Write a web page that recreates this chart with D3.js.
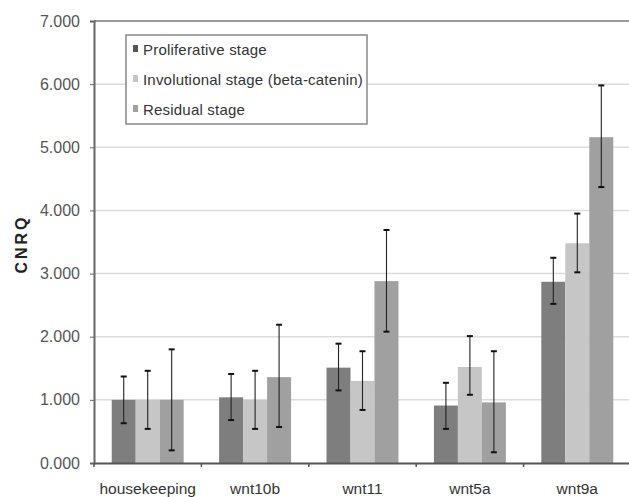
<!DOCTYPE html>
<html>
<head>
<meta charset="utf-8">
<script src="https://cdn.jsdelivr.net/npm/d3@7"></script>
<style>
  body { margin: 0; background: #fff; }
  text { font-family: "Liberation Sans", Arial, sans-serif; }
</style>
</head>
<body>
<div id="chart"></div>
<script>
const categories = ["housekeeping", "wnt10b", "wnt11", "wnt5a", "wnt9a"];
const seriesNames = ["Proliferative stage", "Involutional stage (beta-catenin)", "Residual stage"];
const seriesColors = ["#7e7e7e", "#c6c6c6", "#a0a0a0"];

// bar heights per series, one value per category
const proliferative = [1.00, 1.04, 1.51, 0.91, 2.87];
const involutional = [1.00, 1.00, 1.30, 1.52, 3.48];
const residual = [1.00, 1.36, 2.88, 0.96, 5.16];

// error bar ends [low, high]
const proliferativeErr = [[0.63, 1.37], [0.68, 1.41], [1.15, 1.89], [0.54, 1.27], [2.52, 3.25]];
const involutionalErr = [[0.54, 1.46], [0.54, 1.46], [0.84, 1.77], [1.08, 2.01], [3.02, 3.95]];
const residualErr = [[0.20, 1.80], [0.57, 2.19], [2.08, 3.69], [0.17, 1.77], [4.37, 5.98]];

const yTicks = [0, 1, 2, 3, 4, 5, 6, 7];

const width = 629;
const height = 497;
const margin = { top: 21, right: -2, bottom: 34, left: 94 };

const svg = d3.select("#chart").append("svg")
    .attr("width", width)
    .attr("height", height);

const x = d3.scaleBand()
    .domain(categories)
    .range([margin.left, width - margin.right])
    .paddingInner(0.33)
    .paddingOuter(0.165);

const xOuter = d3.scaleBand()
    .domain(categories)
    .range([margin.left, width - margin.right]);

const xInner = d3.scaleBand()
    .domain(d3.range(seriesNames.length))
    .range([0, x.bandwidth()]);

const y = d3.scaleLinear()
    .domain([0, 7])
    .range([height - margin.bottom, margin.top]);

// gridlines
svg.append("g")
    .selectAll("line")
    .data(yTicks.slice(1, -1))
    .enter().append("line")
    .attr("x1", margin.left)
    .attr("x2", width)
    .attr("y1", d => y(d))
    .attr("y2", d => y(d))
    .style("stroke", "#dcdcdc")
    .style("stroke-width", "1.5px");

// top border
svg.append("line")
    .attr("x1", margin.left)
    .attr("x2", width)
    .attr("y1", y(7))
    .attr("y2", y(7))
    .style("stroke", "#777")
    .style("stroke-width", "1.5px");

const series = [
    { name: seriesNames[0], values: proliferative, err: proliferativeErr, color: seriesColors[0] },
    { name: seriesNames[1], values: involutional, err: involutionalErr, color: seriesColors[1] },
    { name: seriesNames[2], values: residual, err: residualErr, color: seriesColors[2] }
];

const barData = [];
series.forEach((s, si) => {
    categories.forEach((c, ci) => {
        barData.push({ cat: c, si: si, value: s.values[ci], err: s.err[ci], color: s.color });
    });
});

svg.append("g")
    .selectAll("rect")
    .data(barData)
    .enter().append("rect")
    .attr("x", d => x(d.cat) + xInner(d.si))
    .attr("y", d => y(d.value))
    .attr("width", xInner.bandwidth())
    .attr("height", d => y(0) - y(d.value))
    .style("fill", d => d.color);

// error bars
const errG = svg.append("g")
    .selectAll("g")
    .data(barData)
    .enter().append("g")
    .attr("transform", d => `translate(${x(d.cat) + xInner(d.si) + xInner.bandwidth() / 2},0)`);

errG.append("line")
    .attr("y1", d => y(d.err[0]))
    .attr("y2", d => y(d.err[1]))
    .style("stroke", "#222")
    .style("stroke-width", "1.1px");

errG.selectAll(".cap")
    .data(d => d.err)
    .enter().append("line")
    .attr("class", "cap")
    .attr("x1", -3)
    .attr("x2", 3)
    .attr("y1", d => y(d))
    .attr("y2", d => y(d))
    .style("stroke", "#111")
    .style("stroke-width", "2px");

// y axis
const yAxis = d3.axisLeft(y)
    .tickValues(yTicks)
    .tickSize(4)
    .tickPadding(10)
    .tickFormat(d3.format(".3f"));

const yg = svg.append("g")
    .attr("transform", `translate(${margin.left},0)`)
    .call(yAxis);
yg.select(".domain").style("stroke", "#666").style("stroke-width", "2px");
yg.selectAll(".tick line").style("stroke", "#666");
yg.selectAll("text")
    .style("font-size", "16px")
    .style("fill", "#555");

// x axis
const xg = svg.append("g")
    .attr("transform", `translate(0,${y(0)})`)
    .call(d3.axisBottom(xOuter).tickSize(0).tickPadding(20));
xg.select(".domain").style("stroke", "#555").style("stroke-width", "2px");
xg.selectAll("text")
    .style("font-size", "15.5px")
    .style("fill", "#333");

svg.append("g")
    .selectAll("line")
    .data(categories)
    .enter().append("line")
    .attr("x1", d => xOuter(d))
    .attr("x2", d => xOuter(d))
    .attr("y1", y(0))
    .attr("y2", y(0) + 4)
    .style("stroke", "#555")
    .style("stroke-width", "1.5px");

// y axis title
svg.append("text")
    .attr("transform", `translate(27,${(y(0) + y(7)) / 2 + 2}) rotate(-90)`)
    .attr("text-anchor", "middle")
    .style("font-size", "16px")
    .style("font-weight", "bold")
    .style("letter-spacing", "3px")
    .style("fill", "#222")
    .text("CNRQ");

// legend
const legend = svg.append("g")
    .attr("transform", "translate(126,35)");

legend.append("rect")
    .attr("width", 241)
    .attr("height", 89)
    .style("fill", "#fff")
    .style("stroke", "#888")
    .style("stroke-width", "1.5px");

const items = legend.selectAll(".item")
    .data(series)
    .enter().append("g")
    .attr("class", "item")
    .attr("transform", (d, i) => `translate(7,${14 + i * 30})`);

items.append("rect")
    .attr("x", 0)
    .attr("y", -4)
    .attr("width", 5)
    .attr("height", 7)
    .style("fill", (d, i) => i === 0 ? "#555" : d.color);

items.append("text")
    .attr("x", 10)
    .attr("y", 6)
    .style("font-size", "15px")
    .style("letter-spacing", "0.2px")
    .style("fill", "#333")
    .text(d => d.name);
</script>
</body>
</html>
